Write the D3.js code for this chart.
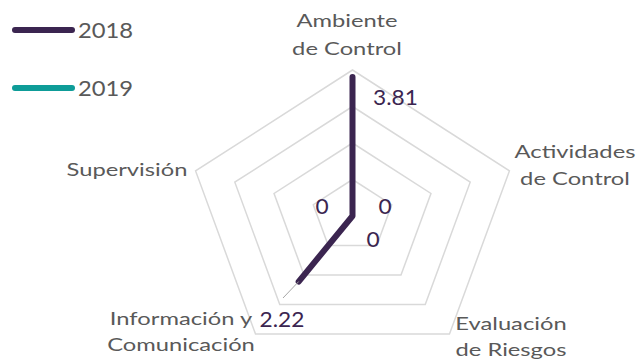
<!DOCTYPE html>
<html>
<head>
<meta charset="utf-8">
<script src="https://cdn.jsdelivr.net/npm/d3@7"></script>
<style>
  html, body { margin: 0; padding: 0; background: #ffffff; }
  svg { display: block; }
</style>
</head>
<body>
<svg id="chart" width="640" height="362"></svg>
<script>
// ---- data ----
const categories = ["Ambiente de Control", "Actividades de Control", "Evaluación de Riesgos", "Información y Comunicación", "Supervisión"];
const categoryLines = [["Ambiente", "de Control"], ["Actividades", "de Control"], ["Evaluación", "de Riesgos"], ["Información y", "Comunicación"], ["Supervisión"]];
const seriesNames = ["2018", "2019"];
const values2018 = [3.81, 0, 0, 2.22, 0];
const values2019 = [null, null, null, null, null];
const ringTicks = [1, 2, 3, 4];
const seriesColors = ["#3B2550", "#0E9C98"];

// ---- layout ----
const svg = d3.select("#chart");
const cx = 352.5, cy = 216;
const rx = 165, ry = 146;
const r = d3.scaleLinear().domain([0, 4]).range([0, 1]);
const angle = d3.scaleLinear().domain([0, categories.length]).range([0, 2 * Math.PI]);
const px = (v, i) => cx + rx * r(v) * Math.sin(angle(i));
const py = (v, i) => cy - ry * r(v) * Math.cos(angle(i));

// grid rings
const ringLine = d3.line().x(d => d[0]).y(d => d[1]).curve(d3.curveLinearClosed);
svg.append("g").selectAll("path").data(ringTicks).join("path")
  .attr("d", t => ringLine(categories.map((c, i) => [px(t, i), py(t, i)])))
  .attr("fill", "none").attr("stroke", "#D9D9D9").attr("stroke-width", 1.5);

// series
const allSeries = [values2018, values2019];
allSeries.forEach((vals, s) => {
  if (vals.some(v => v == null)) return;
  svg.append("path")
    .attr("d", ringLine(vals.map((v, i) => [px(v, i), py(v, i)])))
    .attr("fill", "none").attr("stroke", seriesColors[s]).attr("stroke-width", 6)
    .attr("stroke-linejoin", "round").attr("stroke-linecap", "round");
});

// leader line for 2.22 label
svg.append("line")
  .attr("x1", px(values2018[3], 3)).attr("y1", py(values2018[3], 3))
  .attr("x2", 283).attr("y2", 298)
  .attr("stroke", "#A6A6A6").attr("stroke-width", 1);

// axis labels
const labelPos = [
  {x: 347, y: [27, 55]},
  {x: 575, y: [158, 185]},
  {x: 511, y: [330, 356]},
  {x: 181, y: [325, 351]},
  {x: 127, y: [176]}
];
categoryLines.forEach((lines, i) => {
  lines.forEach((ln, k) => {
    svg.append("text")
      .attr("transform", `translate(${labelPos[i].x},${labelPos[i].y[k]}) scale(1.32,1)`)
      .attr("text-anchor", "middle")
      .attr("font-family", "Lato, 'Noto Sans', sans-serif")
      .attr("font-size", 18)
      .attr("fill", "#595959")
      .text(ln);
  });
});

// data labels
const dataLabelPos = [
  {x: 373, y: 105, anchor: "start"},
  {x: 385, y: 214, anchor: "middle"},
  {x: 373, y: 247, anchor: "middle"},
  {x: 282, y: 327, anchor: "middle"},
  {x: 322, y: 214, anchor: "middle"}
];
values2018.forEach((v, i) => {
  svg.append("text")
    .attr("transform", `translate(${dataLabelPos[i].x},${dataLabelPos[i].y}) scale(1.08,1)`)
    .attr("text-anchor", dataLabelPos[i].anchor)
    .attr("font-family", "Lato, 'Noto Sans', sans-serif")
    .attr("font-size", 21)
    .attr("fill", seriesColors[0])
    .text(d3.format("")(v));
});

// legend
const legend = svg.append("g");
seriesNames.forEach((name, s) => {
  const y = 30 + s * 58;
  legend.append("line")
    .attr("x1", 15).attr("x2", 72).attr("y1", y).attr("y2", y)
    .attr("stroke", seriesColors[s]).attr("stroke-width", 6).attr("stroke-linecap", "round");
  legend.append("text")
    .attr("transform", `translate(78,${y + 7.5}) scale(1.08,1)`)
    .attr("font-family", "Lato, 'Noto Sans', sans-serif")
    .attr("font-size", 22)
    .attr("fill", "#595959")
    .text(name);
});
</script>
</body>
</html>
